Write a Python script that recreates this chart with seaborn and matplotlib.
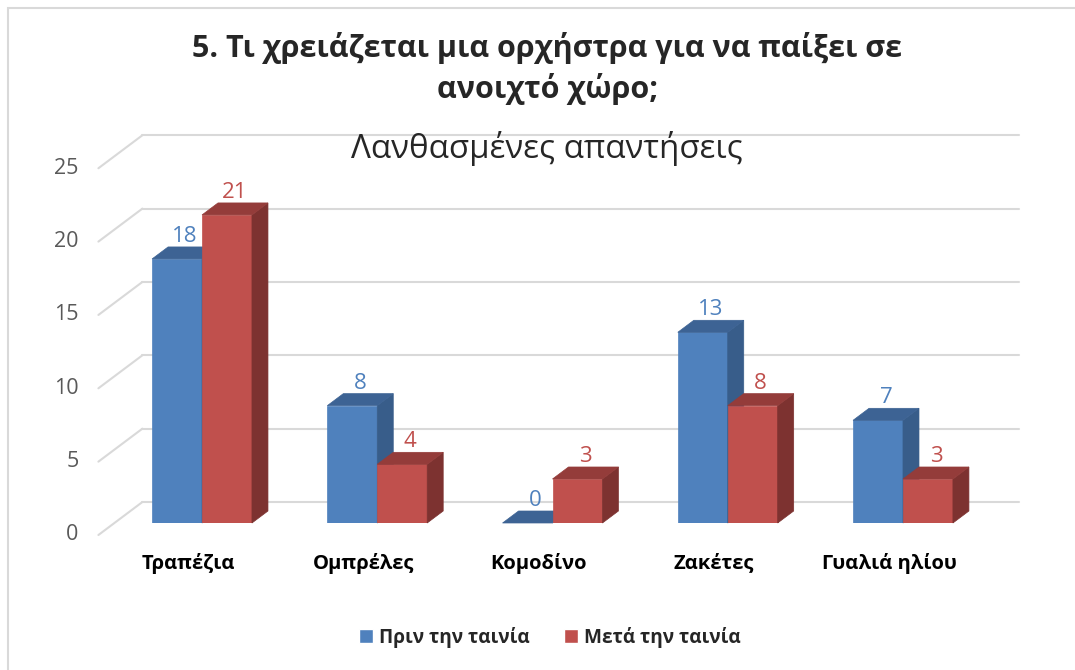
import numpy as np
import pandas as pd
import matplotlib
matplotlib.use("Agg")
import matplotlib.pyplot as plt
import seaborn as sns
from matplotlib.patches import Polygon, Rectangle
from matplotlib.transforms import offset_copy

# data
categories = ["Τραπέζια", "Ομπρέλες", "Κομοδίνο", "Ζακέτες", "Γυαλιά ηλίου"]
series = ["Πριν την ταινία", "Μετά την ταινία"]
before = [18, 8, 0, 13, 7]
after = [21, 4, 3, 8, 3]
y_ticks = [0, 5, 10, 15, 20, 25]

title = "5. Τι χρειάζεται μια ορχήστρα για να παίξει σε\nανοιχτό χώρο;"
subtitle = "Λανθασμένες απαντήσεις"

front_colors = ["#4F81BD", "#C0504D"]
top_colors = ["#3D6394", "#943C3A"]
side_colors = ["#385D8A", "#7D3230"]
label_colors = ["#4F81BD", "#C0504D"]
grid_color = "#D9D9D9"

df = pd.DataFrame({
    "category": categories * 2,
    "value": before + after,
    "series": [series[0]] * len(categories) + [series[1]] * len(categories),
})

sns.set_style("white")
plt.rcParams["font.family"] = ["Open Sans", "Noto Sans", "DejaVu Sans"]

W, H = 1075, 670
fig = plt.figure(figsize=(W / 100, H / 100), dpi=100)
ax = fig.add_axes([114.4 / W, 1 - 523 / H, 876.2 / W, 366.75 / H])

sns.barplot(data=df, x="category", y="value", hue="series", palette=front_colors,
            saturation=1, width=0.57, ax=ax)
ax.set_xlim(-0.5, 4.5)
ax.set_ylim(0, 25)
ax.axis("off")

bars = [p for p in ax.patches if isinstance(p, Rectangle)][:2 * len(categories)]


def px_to_data(dx, dy):
    inv = ax.transData.inverted()
    x0, y0 = inv.transform((0, 0))
    x1, y1 = inv.transform((dx, dy))
    return x1 - x0, y1 - y0


# depth of the bars and of the back wall, in pixels
ddx, ddy = px_to_data(16, 12)
bdx, bdy = px_to_data(28, 21)

# back wall gridlines and the diagonal floor lines
for v in y_ticks:
    ax.plot([-0.5 + bdx, 4.5 + bdx], [v + bdy, v + bdy], color=grid_color,
            lw=1.5, clip_on=False, zorder=1)
    ax.plot([-0.5 - ddx, -0.5 + bdx], [v - ddy, v + bdy], color=grid_color,
            lw=1.5, clip_on=False, zorder=1)
    ax.text(-0.5 - ddx, v - ddy, str(v),
            transform=offset_copy(ax.transData, fig, x=-20, y=0, units="dots"),
            ha="right", va="center", color="#595959", fontsize=15.5)

# fake 3d: side and top faces
for i, p in enumerate(bars):
    s = i // len(categories)
    z = 3 + s
    p.set_zorder(z)
    p.set_edgecolor(front_colors[s])
    p.set_linewidth(0.5)
    x0, w, h = p.get_x(), p.get_width(), p.get_height()
    side = Polygon([(x0 + w, 0), (x0 + w + ddx, ddy), (x0 + w + ddx, h + ddy), (x0 + w, h)],
                   closed=True, facecolor=side_colors[s], edgecolor=side_colors[s],
                   lw=0.5, zorder=z, clip_on=False)
    top = Polygon([(x0, h), (x0 + ddx, h + ddy), (x0 + w + ddx, h + ddy), (x0 + w, h)],
                  closed=True, facecolor=top_colors[s], edgecolor=top_colors[s],
                  lw=0.5, zorder=z, clip_on=False)
    ax.add_patch(side)
    ax.add_patch(top)
    ax.text(x0 + w / 2 + ddx / 2, h + ddy, f"{h:.0f}",
            transform=offset_copy(ax.transData, fig, x=0, y=5, units="dots"),
            ha="center", va="baseline", color=label_colors[s], fontsize=16, zorder=6)

# category labels
for j, cat in enumerate(categories):
    ax.text(j, 0, cat,
            transform=offset_copy(ax.transData, fig, x=-14, y=-40, units="dots"),
            ha="center", va="center", fontsize=14.5, fontweight="bold", color="black")

# titles
fig.text(547.5 / W, 1 - 57 / H, title.split("\n")[0], ha="center", va="baseline",
         fontsize=22, fontweight="bold")
fig.text(547.5 / W, 1 - 98 / H, title.split("\n")[1], ha="center", va="baseline",
         fontsize=22, fontweight="bold")
fig.text(547 / W, 1 - 158 / H, subtitle, ha="center", va="baseline", fontsize=23.8)

# legend
handles, labels = ax.get_legend_handles_labels()
ax.get_legend().remove()
fig.legend(handles, labels, loc="center", bbox_to_anchor=(550 / W, 1 - 637 / H),
           bbox_transform=fig.transFigure, ncol=2, frameon=False,
           prop={"weight": "bold", "size": 13.7}, handlelength=0.72, handleheight=0.72,
           handletextpad=0.35, columnspacing=1.8)

# chart border
fig.patches.append(Rectangle((8 / W, -0.1), 2, 1 - 8 / H + 0.1, transform=fig.transFigure,
                             fill=False, edgecolor=grid_color, lw=1.5))

fig.savefig("out.png", dpi=100)
